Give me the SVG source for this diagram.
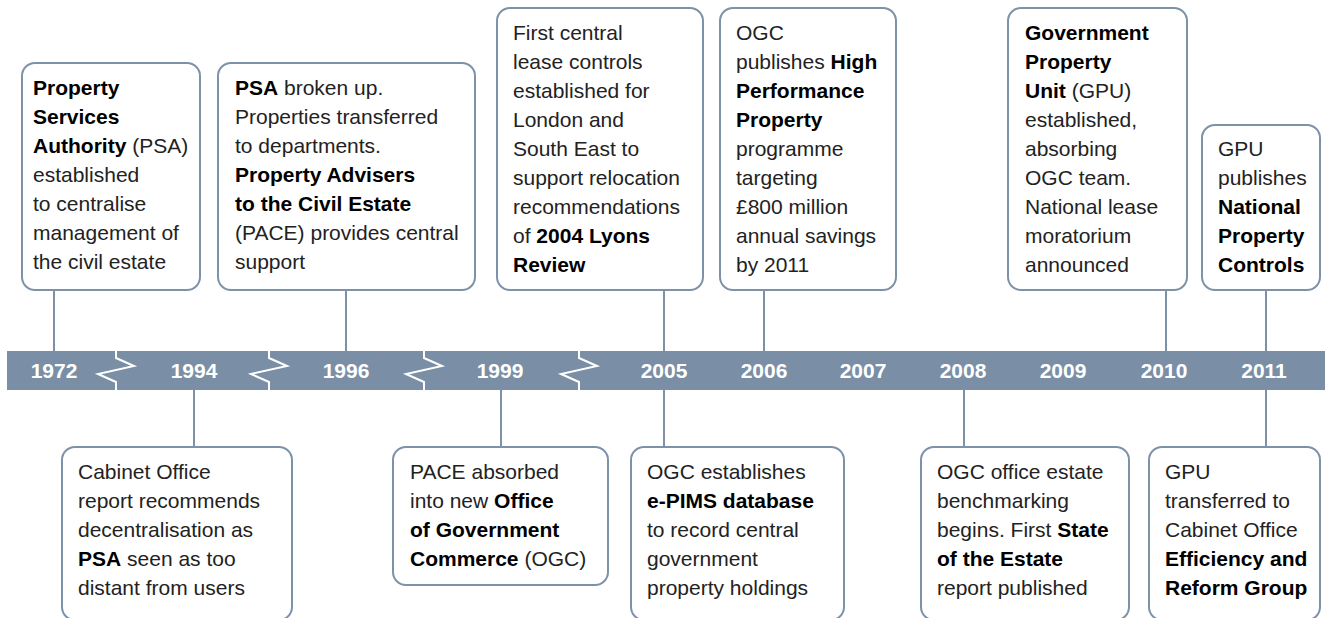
<svg xmlns="http://www.w3.org/2000/svg" width="1325" height="618" viewBox="0 0 1325 618">
  <style>
    .box { fill: #ffffff; stroke: #7d92a9; stroke-width: 2; }
    .link { stroke: #7d92a9; stroke-width: 2; fill: none; }
    .txt { font-family: "Liberation Sans", Arial, Helvetica, sans-serif; font-size: 21px; fill: #222222; }
    .b { font-weight: bold; fill: #000000; }
    .year { font-family: "Liberation Sans", Arial, Helvetica, sans-serif; font-size: 21px; font-weight: bold; fill: #ffffff; text-anchor: middle; }
    .brk { stroke: #ffffff; stroke-width: 2; fill: none; }
  </style>

  <!-- timeline bar -->
  <g id="timeline">
    <rect x="7" y="351" width="1318" height="39" fill="#7a8fa6"/>
    <path class="brk" d="M116 351 V358 L134 366 L98 374 L116 382 V390"/>
    <path class="brk" d="M269 351 V358 L287 366 L251 374 L269 382 V390"/>
    <path class="brk" d="M424 351 V358 L442 366 L406 374 L424 382 V390"/>
    <path class="brk" d="M579 351 V358 L597 366 L561 374 L579 382 V390"/>
    <text class="year" x="54" y="378">1972</text>
    <text class="year" x="194" y="378">1994</text>
    <text class="year" x="346" y="378">1996</text>
    <text class="year" x="500" y="378">1999</text>
    <text class="year" x="664" y="378">2005</text>
    <text class="year" x="764" y="378">2006</text>
    <text class="year" x="863" y="378">2007</text>
    <text class="year" x="963" y="378">2008</text>
    <text class="year" x="1063" y="378">2009</text>
    <text class="year" x="1164" y="378">2010</text>
    <text class="year" x="1264" y="378">2011</text>
  </g>

  <!-- connectors from events to the timeline -->
  <g id="connectors">
    <line class="link" x1="54" y1="290" x2="54" y2="351"/>
    <line class="link" x1="346" y1="290" x2="346" y2="351"/>
    <line class="link" x1="664" y1="290" x2="664" y2="351"/>
    <line class="link" x1="764" y1="290" x2="764" y2="351"/>
    <line class="link" x1="1166" y1="290" x2="1166" y2="351"/>
    <line class="link" x1="1266" y1="290" x2="1266" y2="351"/>
    <line class="link" x1="194" y1="390" x2="194" y2="447"/>
    <line class="link" x1="501" y1="390" x2="501" y2="447"/>
    <line class="link" x1="664" y1="390" x2="664" y2="447"/>
    <line class="link" x1="964" y1="390" x2="964" y2="447"/>
    <line class="link" x1="1266" y1="390" x2="1266" y2="447"/>
  </g>

  <!-- 1972 -->
  <g id="e1972">
    <rect class="box" x="22" y="63" width="178" height="227" rx="13"/>
    <text class="txt" x="33" y="95"><tspan class="b">Property</tspan></text>
    <text class="txt" x="33" y="124"><tspan class="b">Services</tspan></text>
    <text class="txt" x="33" y="153"><tspan class="b">Authority</tspan> (PSA)</text>
    <text class="txt" x="33" y="182">established</text>
    <text class="txt" x="33" y="211">to centralise</text>
    <text class="txt" x="33" y="240">management of</text>
    <text class="txt" x="33" y="269">the civil estate</text>
  </g>

  <!-- 1996 -->
  <g id="e1996">
    <rect class="box" x="218" y="63" width="257" height="227" rx="13"/>
    <text class="txt" x="235" y="95"><tspan class="b">PSA</tspan> broken up.</text>
    <text class="txt" x="235" y="124">Properties transferred</text>
    <text class="txt" x="235" y="153">to departments.</text>
    <text class="txt" x="235" y="182"><tspan class="b">Property Advisers</tspan></text>
    <text class="txt" x="235" y="211"><tspan class="b">to the Civil Estate</tspan></text>
    <text class="txt" x="235" y="240">(PACE) provides central</text>
    <text class="txt" x="235" y="269">support</text>
  </g>

  <!-- 2005 (lease controls) -->
  <g id="e2005a">
    <rect class="box" x="497" y="8" width="206" height="282" rx="13"/>
    <text class="txt" x="513" y="40">First central</text>
    <text class="txt" x="513" y="69">lease controls</text>
    <text class="txt" x="513" y="98">established for</text>
    <text class="txt" x="513" y="127">London and</text>
    <text class="txt" x="513" y="156">South East to</text>
    <text class="txt" x="513" y="185">support relocation</text>
    <text class="txt" x="513" y="214">recommendations</text>
    <text class="txt" x="513" y="243">of <tspan class="b">2004 Lyons</tspan></text>
    <text class="txt" x="513" y="272"><tspan class="b">Review</tspan></text>
  </g>

  <!-- 2006 -->
  <g id="e2006">
    <rect class="box" x="720" y="8" width="176" height="282" rx="13"/>
    <text class="txt" x="736" y="40">OGC</text>
    <text class="txt" x="736" y="69">publishes <tspan class="b">High</tspan></text>
    <text class="txt" x="736" y="98"><tspan class="b">Performance</tspan></text>
    <text class="txt" x="736" y="127"><tspan class="b">Property</tspan></text>
    <text class="txt" x="736" y="156">programme</text>
    <text class="txt" x="736" y="185">targeting</text>
    <text class="txt" x="736" y="214">£800 million</text>
    <text class="txt" x="736" y="243">annual savings</text>
    <text class="txt" x="736" y="272">by 2011</text>
  </g>

  <!-- 2010 -->
  <g id="e2010">
    <rect class="box" x="1008" y="8" width="179" height="282" rx="13"/>
    <text class="txt" x="1025" y="40"><tspan class="b">Government</tspan></text>
    <text class="txt" x="1025" y="69"><tspan class="b">Property</tspan></text>
    <text class="txt" x="1025" y="98"><tspan class="b">Unit</tspan> (GPU)</text>
    <text class="txt" x="1025" y="127">established,</text>
    <text class="txt" x="1025" y="156">absorbing</text>
    <text class="txt" x="1025" y="185">OGC team.</text>
    <text class="txt" x="1025" y="214">National lease</text>
    <text class="txt" x="1025" y="243">moratorium</text>
    <text class="txt" x="1025" y="272">announced</text>
  </g>

  <!-- 2011 (controls) -->
  <g id="e2011a">
    <rect class="box" x="1202" y="125" width="118" height="165" rx="13"/>
    <text class="txt" x="1218" y="156">GPU</text>
    <text class="txt" x="1218" y="185">publishes</text>
    <text class="txt" x="1218" y="214"><tspan class="b">National</tspan></text>
    <text class="txt" x="1218" y="243"><tspan class="b">Property</tspan></text>
    <text class="txt" x="1218" y="272"><tspan class="b">Controls</tspan></text>
  </g>

  <!-- 1994 (box runs off the lower edge) -->
  <g id="e1994">
    <rect class="box" x="62" y="447" width="230" height="173" rx="13"/>
    <text class="txt" x="78" y="479">Cabinet Office</text>
    <text class="txt" x="78" y="508">report recommends</text>
    <text class="txt" x="78" y="537">decentralisation as</text>
    <text class="txt" x="78" y="566"><tspan class="b">PSA</tspan> seen as too</text>
    <text class="txt" x="78" y="595">distant from users</text>
  </g>

  <!-- 1999 -->
  <g id="e1999">
    <rect class="box" x="393" y="447" width="215" height="138" rx="13"/>
    <text class="txt" x="410" y="479">PACE absorbed</text>
    <text class="txt" x="410" y="508">into new <tspan class="b">Office</tspan></text>
    <text class="txt" x="410" y="537"><tspan class="b">of Government</tspan></text>
    <text class="txt" x="410" y="566"><tspan class="b">Commerce</tspan> (OGC)</text>
  </g>

  <!-- 2005 (e-PIMS) -->
  <g id="e2005b">
    <rect class="box" x="631" y="447" width="213" height="173" rx="13"/>
    <text class="txt" x="647" y="479">OGC establishes</text>
    <text class="txt" x="647" y="508"><tspan class="b">e-PIMS database</tspan></text>
    <text class="txt" x="647" y="537">to record central</text>
    <text class="txt" x="647" y="566">government</text>
    <text class="txt" x="647" y="595">property holdings</text>
  </g>

  <!-- 2008 -->
  <g id="e2008">
    <rect class="box" x="921" y="447" width="208" height="173" rx="13"/>
    <text class="txt" x="937" y="479">OGC office estate</text>
    <text class="txt" x="937" y="508">benchmarking</text>
    <text class="txt" x="937" y="537">begins. First <tspan class="b">State</tspan></text>
    <text class="txt" x="937" y="566"><tspan class="b">of the Estate</tspan></text>
    <text class="txt" x="937" y="595">report published</text>
  </g>

  <!-- 2011 (transfer) -->
  <g id="e2011b">
    <rect class="box" x="1149" y="447" width="171" height="173" rx="13"/>
    <text class="txt" x="1165" y="479">GPU</text>
    <text class="txt" x="1165" y="508">transferred to</text>
    <text class="txt" x="1165" y="537">Cabinet Office</text>
    <text class="txt" x="1165" y="566"><tspan class="b">Efficiency and</tspan></text>
    <text class="txt" x="1165" y="595"><tspan class="b">Reform Group</tspan></text>
  </g>
</svg>
